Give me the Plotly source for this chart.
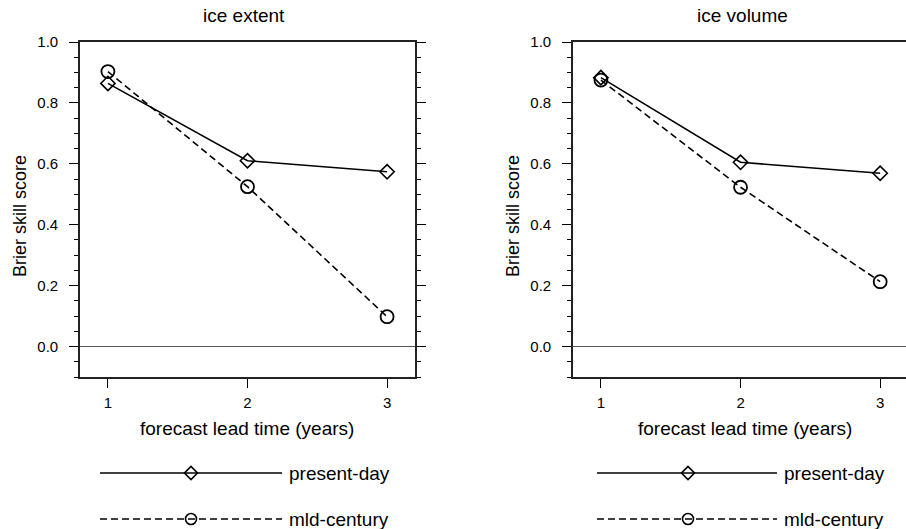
import plotly.graph_objects as go

# ---- data ----
lead_years = [1, 2, 3]
extent_present = [0.864, 0.610, 0.574]
extent_mid = [0.903, 0.525, 0.098]
volume_present = [0.883, 0.605, 0.569]
volume_mid = [0.875, 0.523, 0.213]
panel_titles = ["ice extent", "ice volume"]
series_names = ["present-day", "mld-century"]
x_title = "forecast lead time (years)"
y_title = "Brier skill score"

W, H = 906, 529
FONT = "Liberation Sans, Arial, sans-serif"


def fx(p):
    return p / W


def fy(p):
    return 1 - p / H


fig = go.Figure()

panels = [
    dict(present=extent_present, mid=extent_mid, xa="x", ya="y",
         xdom=[fx(80), fx(415)], xr=[0.8, 3.2], cx=244, ytx=20, mirror="ticks"),
    dict(present=volume_present, mid=volume_mid, xa="x2", ya="y2",
         xdom=[fx(573), 1.0], xr=[0.8, 3.185], cx=742, ytx=513, mirror=False),
]

dash = "7px,4px"
for p in panels:
    fig.add_trace(go.Scatter(
        x=lead_years, y=p["present"], xaxis=p["xa"], yaxis=p["ya"],
        mode="lines+markers", name=series_names[0], showlegend=False,
        line=dict(color="black", width=1.6),
        marker=dict(symbol="diamond-open", size=11, color="black",
                    line=dict(width=1.6, color="black"))))
    fig.add_trace(go.Scatter(
        x=lead_years, y=p["mid"], xaxis=p["xa"], yaxis=p["ya"],
        mode="lines+markers", name=series_names[1], showlegend=False,
        line=dict(color="black", width=1.6, dash=dash),
        marker=dict(symbol="circle-open", size=13, color="black",
                    line=dict(width=1.8, color="black"))))

# legend drawn on hidden pixel-space axes
leg_rows = [473, 519]
leg_styles = [
    dict(symbol="diamond-open", size=10, dash="solid"),
    dict(symbol="circle-open", size=11, dash=dash),
]
leg_x = [(100, 191, 282), (597, 688, 777)]
for (x0, xm, x1) in leg_x:
    for row, st in zip(leg_rows, leg_styles):
        fig.add_trace(go.Scatter(
            x=[x0, x1], y=[row, row], xaxis="x3", yaxis="y3",
            mode="lines", showlegend=False, hoverinfo="skip",
            line=dict(color="black", width=1.6, dash=st["dash"])))
        fig.add_trace(go.Scatter(
            x=[xm], y=[row], xaxis="x3", yaxis="y3",
            mode="markers", showlegend=False, hoverinfo="skip",
            marker=dict(symbol=st["symbol"], size=st["size"], color="black",
                        line=dict(width=1.6, color="black"))))

annotations = []
for (x0, xm, x1) in leg_x:
    for row, name in zip(leg_rows, series_names):
        annotations.append(dict(
            x=fx(x1 + 5), y=fy(row), xref="paper", yref="paper",
            text=name, showarrow=False, xanchor="left", yanchor="middle",
            font=dict(size=19, color="black", family=FONT)))

layout = dict(
    width=W, height=H,
    margin=dict(l=0, r=0, t=0, b=0, pad=0, autoexpand=False),
    paper_bgcolor="white", plot_bgcolor="rgba(0,0,0,0)",
    font=dict(family=FONT, color="black"),
    showlegend=False,
    xaxis3=dict(domain=[0, 1], range=[0, W], visible=False, fixedrange=True,
                automargin=False),
    yaxis3=dict(domain=[0, 1], range=[H, 0], visible=False, fixedrange=True,
                anchor="x3", automargin=False),
)

for i, p in enumerate(panels):
    sx = "" if i == 0 else str(i + 1)
    layout["xaxis" + sx] = dict(
        domain=p["xdom"], range=p["xr"], anchor=p["ya"], automargin=False,
        tickvals=lead_years, ticks="outside", ticklen=9, tickwidth=1.3,
        tickcolor="black", showline=True, linecolor="#222", linewidth=1.6,
        mirror=True, showgrid=False, zeroline=False,
        tickfont=dict(size=15, family=FONT), ticklabelstandoff=2)
    layout["yaxis" + sx] = dict(
        domain=[fy(377), fy(42)], range=[-0.1, 1.0], anchor=p["xa"],
        automargin=False,
        tick0=0, dtick=0.2, tickformat=".1f", ticks="outside", ticklen=9,
        tickwidth=1.3, tickcolor="black",
        minor=dict(tick0=0, dtick=0.05, ticks="outside", ticklen=4,
                   tickwidth=1.1, tickcolor="black", showgrid=False),
        showline=True, linecolor="#222", linewidth=1.6, mirror=p["mirror"],
        showgrid=False, zeroline=True, zerolinecolor="#555",
        zerolinewidth=1.2, tickfont=dict(size=15, family=FONT),
        ticklabelstandoff=8)
    annotations.append(dict(
        x=fx(p["cx"]), y=fy(16), xref="paper", yref="paper",
        text=panel_titles[i], showarrow=False, xanchor="center",
        yanchor="middle", font=dict(size=19, family=FONT)))
    annotations.append(dict(
        x=fx(p["cx"] + 3), y=fy(428), xref="paper", yref="paper",
        text=x_title, showarrow=False, xanchor="center", yanchor="middle",
        font=dict(size=19, family=FONT)))
    annotations.append(dict(
        x=fx(p["ytx"]), y=fy(216), xref="paper", yref="paper",
        text=y_title, showarrow=False, xanchor="center", yanchor="middle",
        textangle=-90, font=dict(size=18, family=FONT)))

layout["annotations"] = annotations
fig.update_layout(**layout)
fig.write_html("out.html")
